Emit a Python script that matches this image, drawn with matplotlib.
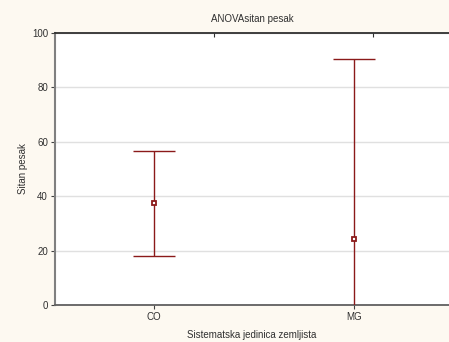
import numpy as np
import matplotlib
matplotlib.use('Agg')
import matplotlib.pyplot as plt

plt.rcParams['font.family'] = ['Liberation Sans', 'DejaVu Sans']

kategorije = ['CO', 'MG']
srednje = np.array([37.5, 24.2])
gornja = np.array([56.6, 90.4])
donja = np.array([18.0, -42.0])

crvena = '#8b1a1a'
pozadina = '#fdf9f1'

fig = plt.figure(figsize=(4.49, 3.42), dpi=100, facecolor=pozadina)
ax = fig.add_axes([0.1225, 0.108, 0.8775, 0.7955])
ax.set_facecolor('white')

x = np.arange(1, len(kategorije) + 1)
ax.errorbar(x, srednje, yerr=[srednje - donja, gornja - srednje], fmt='none',
            ecolor=crvena, elinewidth=1.0, capsize=14.8, capthick=1.0, zorder=3)
ax.plot(x, srednje, linestyle='None', marker='s', markersize=3.2,
        markerfacecolor='white', markeredgecolor=crvena, markeredgewidth=1.3, zorder=4)

ax.set_xlim(0.505, 2.475)
ax.set_ylim(0, 100)
ax.set_xticks(x)
ax.set_xticklabels(kategorije)
ax.set_yticks([0, 20, 40, 60, 80, 100])
ax.yaxis.grid(True, color='#e0e0e0', linewidth=1)
ax.set_axisbelow(True)

ax.spines['left'].set_color('#808080')
ax.spines['left'].set_linewidth(1.5)
ax.spines['bottom'].set_color('#606060')
ax.spines['bottom'].set_linewidth(1.3)
ax.spines['top'].set_color('#303030')
ax.spines['top'].set_linewidth(1.3)
ax.spines['right'].set_visible(False)

ax.tick_params(axis='both', labelsize=7, length=3, color='#404040', labelcolor='#303030', width=0.8, pad=2)

gornja_os = ax.twiny()
gornja_os.set_xlim(ax.get_xlim())
gornja_os.set_xticks([1.3, 2.095])
gornja_os.set_xticklabels([])
gornja_os.tick_params(axis='x', length=3, direction='in', color='#303030')
for s in gornja_os.spines.values():
    s.set_visible(False)

ax.set_title('ANOVAsitan pesak', fontsize=7, color='#303030', pad=8)
ax.set_xlabel('Sistematska jedinica zemljista', fontsize=7, color='#303030', labelpad=6)
ax.set_ylabel('Sitan pesak', fontsize=7, color='#303030', labelpad=3)

fig.savefig('out.png', dpi=100, facecolor=pozadina)
